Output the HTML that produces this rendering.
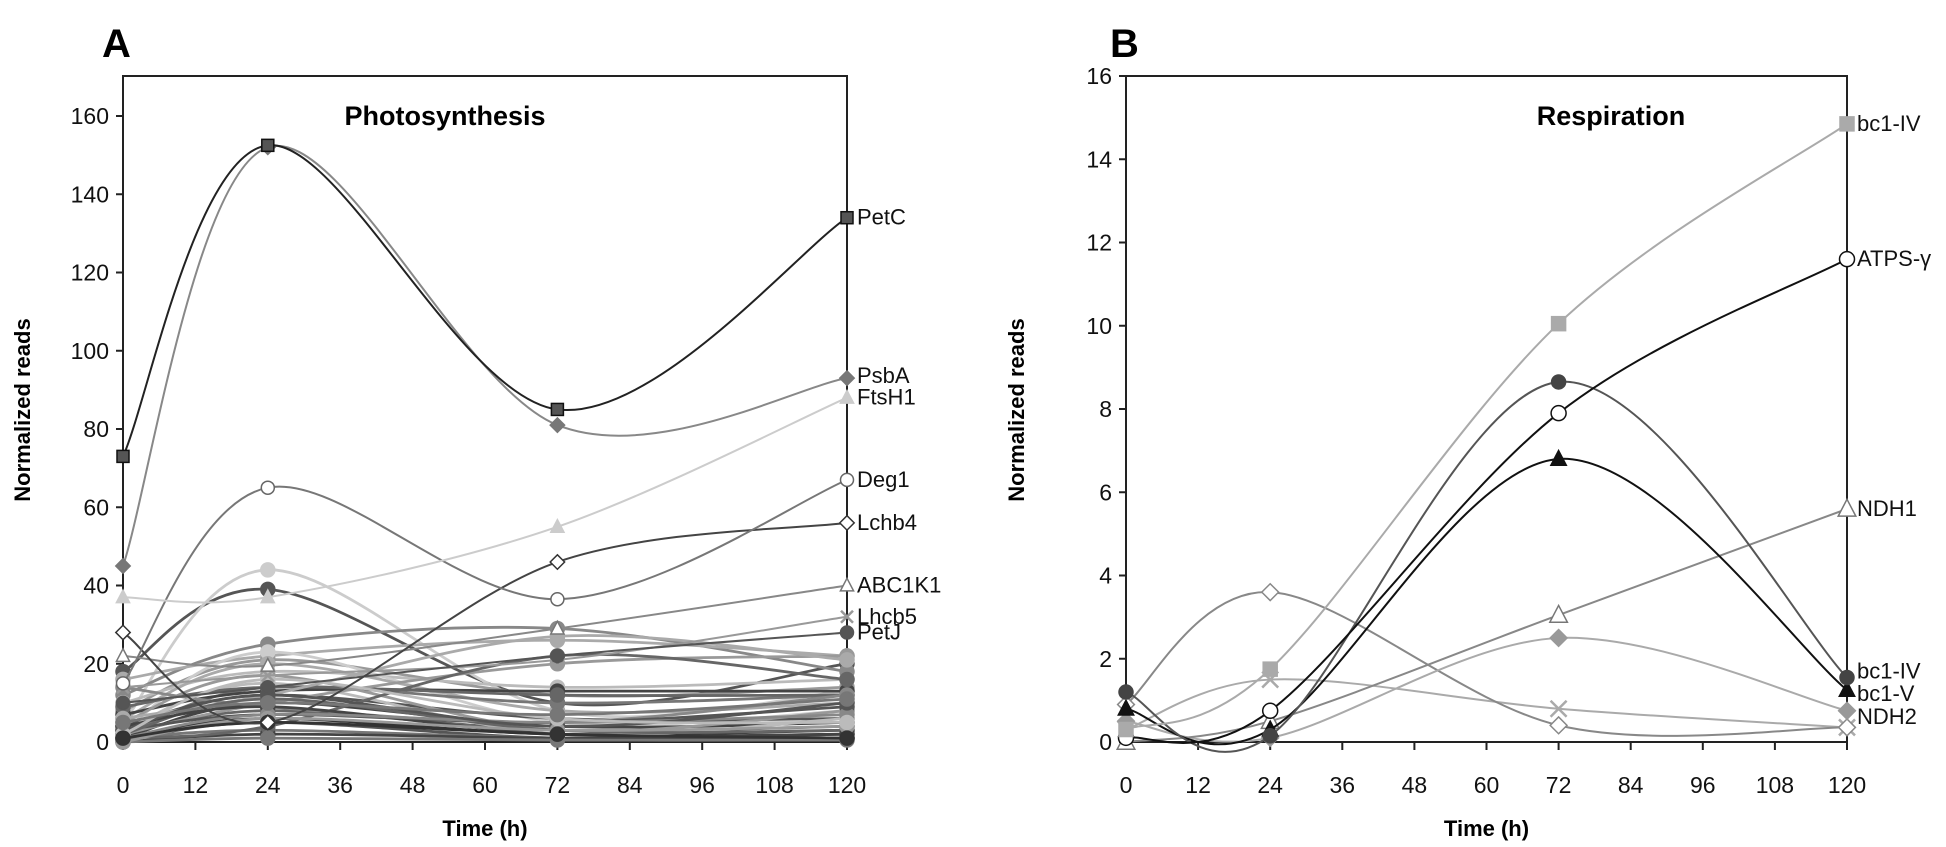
<!DOCTYPE html>
<html><head><meta charset="utf-8">
<style>
html,body{margin:0;padding:0;background:#fff;}
svg{display:block;font-family:"Liberation Sans",sans-serif;}
</style></head>
<body>
<svg id="chart" width="1946" height="847" viewBox="0 0 1946 847" xmlns="http://www.w3.org/2000/svg">
<text x="102" y="57" font-size="40" font-weight="bold">A</text>
<text x="1110" y="57" font-size="40" font-weight="bold">B</text>
<g id="pa"></g>
<g id="pb"></g>
</svg>
<script>
const times=[0,24,72,120];
const xTicks=[0,12,24,36,48,60,72,84,96,108,120];
const yTicksA=[0,20,40,60,80,100,120,140,160];
const yTicksB=[0,2,4,6,8,10,12,14,16];
// Panel A labelled series
const petC=[73,152.5,85,134];
const psbA=[45,152,81,93];
const ftsH1=[37,37,55,88];
const deg1=[15,65,36.5,67];
const lchb4=[28,5,46,56];
const abc1k1=[22,19.5,29,40];
const lhcb5=[14,17,21,32];
const petJ=[10,14,22,28];
// Panel A background series
const bgA=[[18,39,10,20],[5,44,8,13],[12,25,29,18],[16,22,26,22],[8,21,12,14],[10,18,14,16],[3,23,5,8],[6,20,8,10],[2,14,10,12],[4,12,6,6],[1,10,4,5],[2,8,3,4],[1,6,2,3],[0.5,5,1,2],[3,15,2,6],[7,13,13,13],[9,14,12,12],[1,3,1,1],[2,10,20,22],[0,2,1,1],[5,17,3,8],[14,9,5,12],[3,7,5,9],[1,4,22,16],[6,12,27,21],[0,1,0.5,0.5],[2,11,3,3],[4,9,2,2],[1,7,5,7],[3,12,4,10],[0,6,3,4],[2,16,6,5],[1,5,2,1],[5,10,7,11]];
const bgColors=["#555","#ccc","#888","#aaa","#999","#bbb","#ccc","#aaa","#777","#555","#444","#666","#333","#555","#bbb","#444","#666","#777","#999","#444","#999","#888","#555","#666","#aaa","#777","#666","#444","#888","#555","#999","#bbb","#333","#777"];
// Panel B series
const bc1IVsq=[0.3,1.75,10.05,14.85];
const atps=[0.1,0.75,7.9,11.6];
const bc1IVc=[1.2,0.15,8.65,1.55];
const bc1V=[0.8,0.3,6.8,1.25];
const ndh1=[0,0.5,3.05,5.6];
const ndh2=[0.5,0.1,2.5,0.75];
const openDia=[0.9,3.6,0.4,0.35];
const xSer=[0.3,1.5,0.8,0.35];

const NS="http://www.w3.org/2000/svg";
function mk(p,tag,at){const e=document.createElementNS(NS,tag);for(const k in at)e.setAttribute(k,at[k]);p.appendChild(e);return e;}

function panel(g,cfg){
  const X=v=>cfg.x0+(v/120)*(cfg.x1-cfg.x0);
  const Y=v=>cfg.yb-(v/cfg.ymax)*(cfg.yb-cfg.yt);
  cfg.X=X;cfg.Y=Y;
  const fr=mk(g,'rect',{x:cfg.x0,y:cfg.top,width:cfg.x1-cfg.x0,height:cfg.yb-cfg.top,fill:'none',stroke:'#222','stroke-width':2});
  
  
  cfg.ticks.forEach(v=>{
    const t=mk(g,'line',{x1:cfg.x0-7,x2:cfg.x0,y1:Y(v),y2:Y(v),stroke:'#222','stroke-width':2});
    
    
    const l=mk(g,'text',{x:cfg.x0-14,y:Y(v)+8,'font-size':23,'text-anchor':'end',fill:'#111'});
    l.textContent=v;
    
    
  });
  xTicks.forEach(v=>{
    const t=mk(g,'line',{x1:X(v),x2:X(v),y1:cfg.yb,y2:cfg.yb+8,stroke:'#222','stroke-width':2});
    
    
    const l=mk(g,'text',{x:X(v),y:793,'font-size':23,'text-anchor':'middle',fill:'#111'});
    l.textContent=v;
    
    
  });
  const xt=mk(g,'text',{x:(cfg.x0+cfg.x1)/2,y:836,'font-size':22,'font-weight':'bold','text-anchor':'middle'});
  xt.textContent='Time (h)';
  
  
  const yt=mk(g,'text',{x:0,y:0,'font-size':22,'font-weight':'bold','text-anchor':'middle',transform:`translate(${cfg.ytx},410) rotate(-90)`});
  yt.textContent='Normalized reads';
  
  
  const tt=mk(g,'text',{x:cfg.titleX,y:125,'font-size':27,'font-weight':'bold','text-anchor':'middle'});
  tt.textContent=cfg.title;
  
  
}

function smooth(pts){
  let d=`M${pts[0][0]},${pts[0][1]}`;
  for(let i=0;i<pts.length-1;i++){
    const p0=pts[i-1]||pts[i],p1=pts[i],p2=pts[i+1],p3=pts[i+2]||p2;
    const c1=[p1[0]+(p2[0]-p0[0])/6,p1[1]+(p2[1]-p0[1])/6];
    const c2=[p2[0]-(p3[0]-p1[0])/6,p2[1]-(p3[1]-p1[1])/6];
    d+=` C${c1[0]},${c1[1]} ${c2[0]},${c2[1]} ${p2[0]},${p2[1]}`;
  }
  return d;
}
function marker(g,type,x,y,s,fill,stroke){
  let e;
  if(type==='square')e=mk(g,'rect',{x:x-s/2,y:y-s/2,width:s,height:s,fill,stroke,'stroke-width':1.5});
  else if(type==='circle')e=mk(g,'circle',{cx:x,cy:y,r:s/2,fill,stroke,'stroke-width':1.5});
  else if(type==='diamond')e=mk(g,'polygon',{points:`${x},${y-s*0.6} ${x+s*0.6},${y} ${x},${y+s*0.6} ${x-s*0.6},${y}`,fill,stroke,'stroke-width':1.5});
  else if(type==='triangle')e=mk(g,'polygon',{points:`${x},${y-s*0.6} ${x+s*0.55},${y+s*0.45} ${x-s*0.55},${y+s*0.45}`,fill,stroke,'stroke-width':1.5});
  else {e=mk(g,'path',{d:`M${x-s/2},${y-s/2}L${x+s/2},${y+s/2}M${x+s/2},${y-s/2}L${x-s/2},${y+s/2}`,stroke:stroke,'stroke-width':2.5,fill:'none'});}
  return e;
}
function series(g,cfg,vals,o){
  const pts=vals.map((v,i)=>[cfg.X(times[i]),cfg.Y(v)]);
  const p=mk(g,'path',{d:smooth(pts),fill:'none',stroke:o.line,'stroke-width':o.w||2});
  
  
  pts.forEach(pt=>{
    const m=marker(g,o.m,pt[0],pt[1],o.s||12,o.fill,o.stroke);
    
    
  });
  if(o.label){
    const t=mk(g,'text',{x:pts[3][0]+10,y:pts[3][1]+7+(o.dy||0),'font-size':22,fill:'#111'});
    t.textContent=o.label;
    
    
  }
}

const ga=document.getElementById('pa');
const A={x0:123,x1:847,yb:742,yt:116,top:76,ymax:160,ticks:yTicksA,ytx:30,titleX:445,title:'Photosynthesis'};
panel(ga,A);
bgA.forEach((v,i)=>series(ga,A,v,{name:'background-gene',line:bgColors[i],m:'circle',fill:bgColors[i],stroke:bgColors[i],s:14,w:2.8}));
series(ga,A,lhcb5,{name:'lhcb5',line:'#999',m:'x',fill:'none',stroke:'#999',label:'Lhcb5'});
series(ga,A,petJ,{name:'petj',line:'#555',m:'circle',fill:'#555',stroke:'#555',s:13,label:'PetJ'});
series(ga,A,abc1k1,{name:'abc1k1',line:'#888',m:'triangle',fill:'#fff',stroke:'#777',label:'ABC1K1'});
series(ga,A,lchb4,{name:'lchb4',line:'#444',m:'diamond',fill:'#fff',stroke:'#333',label:'Lchb4'});
series(ga,A,deg1,{name:'deg1',line:'#777',m:'circle',fill:'#fff',stroke:'#666',s:13,label:'Deg1'});
series(ga,A,ftsH1,{name:'ftsh1',line:'#ccc',m:'triangle',fill:'#ccc',stroke:'#ccc',label:'FtsH1'});
series(ga,A,psbA,{name:'psba',line:'#888',m:'diamond',fill:'#777',stroke:'#777',label:'PsbA',dy:-2});
series(ga,A,petC,{name:'petc',line:'#222',m:'square',fill:'#555',stroke:'#111',label:'PetC'});

const gb=document.getElementById('pb');
const B={x0:1126,x1:1847,yb:742,yt:76,top:76,ymax:16,ticks:yTicksB,ytx:1024,titleX:1611,title:'Respiration'};
panel(gb,B);
series(gb,B,xSer,{name:'x-series',line:'#aaa',m:'x',fill:'none',stroke:'#aaa',s:16});
series(gb,B,openDia,{name:'open-diamond-series',line:'#888',m:'diamond',fill:'#fff',stroke:'#888',s:14});
series(gb,B,ndh2,{name:'ndh2',line:'#aaa',m:'diamond',fill:'#999',stroke:'#999',s:14,label:'NDH2',dy:6});
series(gb,B,ndh1,{name:'ndh1',line:'#888',m:'triangle',fill:'#fff',stroke:'#777',s:16,label:'NDH1'});
series(gb,B,bc1V,{name:'bc1-v',line:'#111',m:'triangle',fill:'#111',stroke:'#111',s:14,label:'bc1-V',dy:4});
series(gb,B,bc1IVc,{name:'bc1-iv-circle',line:'#555',m:'circle',fill:'#444',stroke:'#444',s:14,label:'bc1-IV',dy:-6});
series(gb,B,atps,{name:'atps-gamma',line:'#111',m:'circle',fill:'#fff',stroke:'#111',s:15,label:'ATPS-γ'});
series(gb,B,bc1IVsq,{name:'bc1-iv-square',line:'#aaa',m:'square',fill:'#aaa',stroke:'#aaa',s:14,label:'bc1-IV'});
</script>
</body></html>
